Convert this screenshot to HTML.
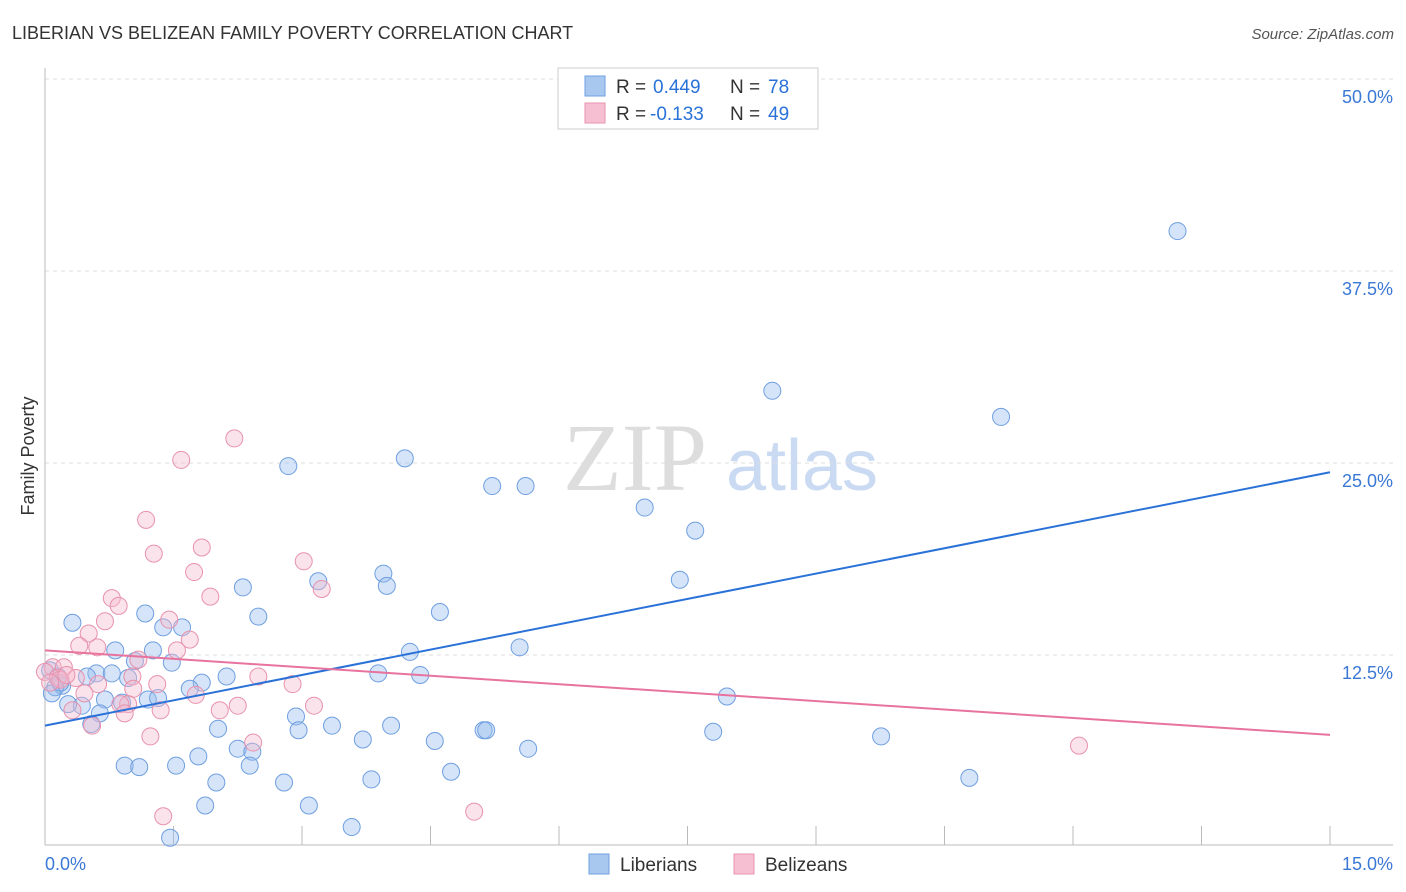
<!DOCTYPE html>
<html><head><meta charset="utf-8"><style>
body{margin:0;background:#fff;font-family:"Liberation Sans",sans-serif;}
svg{display:block}
</style></head><body>
<svg id="chart" width="1406" height="892">
<text x="12" y="39" font-size="18" fill="#333">LIBERIAN VS BELIZEAN FAMILY POVERTY CORRELATION CHART</text>
<text x="1394" y="39" font-size="15" fill="#555" font-style="italic" text-anchor="end">Source: ZipAtlas.com</text>
<g>
<text x="635" y="490" font-size="96" font-family="Liberation Serif,serif" fill="#ddd" text-anchor="middle">ZIP</text>
<text x="802" y="490" font-size="72" fill="#c9daf2" text-anchor="middle">atlas</text>
</g>
<g id="grid"></g>
<g id="axes"></g>
<g id="points"></g>
<g id="trends"></g>
<text transform="translate(34,456) rotate(-90)" font-size="18" fill="#333" text-anchor="middle">Family Poverty</text>
<g>
<rect x="558" y="68" width="260" height="61" fill="#fff" stroke="#ccc"/>
<rect x="585" y="76" width="20" height="20" fill="#a9c8f0" stroke="#6f9fe0"/>
<rect x="585" y="103" width="20" height="20" fill="#f6c0d2" stroke="#e892ad"/>
<text x="616" y="93" font-size="19" fill="#333">R =<tspan x="653" fill="#2a72d8">0.449</tspan><tspan x="730">N =</tspan><tspan x="768" fill="#2a72d8">78</tspan></text>
<text x="616" y="120" font-size="19" fill="#333">R =<tspan x="650" fill="#2a72d8">-0.133</tspan><tspan x="730">N =</tspan><tspan x="768" fill="#2a72d8">49</tspan></text>
</g>
<g>
<rect x="589" y="854" width="20" height="20" fill="#a9c8f0" stroke="#6f9fe0"/>
<text x="620" y="871" font-size="19" fill="#333">Liberians</text>
<rect x="734" y="854" width="20" height="20" fill="#f6c0d2" stroke="#e892ad"/>
<text x="765" y="871" font-size="19" fill="#333">Belizeans</text>
</g>
</svg>
<script>
const blueX=[13.22,8.49,11.16,4.20,2.84,5.22,5.61,7.00,7.59,7.41,3.19,3.95,3.99,2.31,4.61,1.17,2.49,0.32,1.38,1.60,0.82,1.26,5.54,4.26,1.48,1.05,0.60,0.78,0.49,0.06,0.15,0.20,0.12,3.89,4.38,2.12,1.83,1.69,0.97,0.70,0.90,1.20,1.32,0.43,0.27,0.64,7.96,2.93,2.96,3.35,4.04,2.02,0.54,5.12,5.15,3.71,4.55,7.80,9.76,2.25,2.42,5.64,1.79,2.39,0.93,1.10,1.53,4.74,10.79,2.00,2.79,3.81,1.87,3.08,3.58,1.46,0.08,0.18];
const blueY=[40.1,29.7,28.0,25.3,24.8,23.5,23.5,22.1,20.6,17.4,17.3,17.8,17.0,16.9,15.3,15.2,15.0,14.6,14.3,14.3,12.8,12.8,13.0,12.7,12.0,12.1,11.3,11.3,11.1,11.5,11.1,10.5,10.4,11.3,11.2,11.1,10.7,10.3,11.0,9.6,9.4,9.6,9.7,9.2,9.3,8.7,9.8,8.5,7.6,7.9,7.9,7.7,8.0,7.6,7.6,7.0,6.9,7.5,7.2,6.4,6.2,6.4,5.9,5.3,5.3,5.2,5.3,4.9,4.5,4.2,4.2,4.4,2.7,2.7,1.3,0.6,10.0,10.7];
const pinkX=[2.21,1.59,1.18,1.27,1.83,3.02,1.74,3.23,1.93,0.78,0.86,0.70,1.45,0.51,1.69,0.40,0.61,1.54,1.09,0.09,0.22,0.00,0.15,0.36,0.62,1.02,1.31,2.49,2.89,1.03,1.76,0.46,0.97,0.88,2.25,3.14,0.93,1.35,2.04,0.32,0.55,1.23,2.43,12.07,5.01,1.38,0.18,0.06,0.25];
const pinkY=[26.6,25.2,21.3,19.1,19.5,18.6,17.9,16.8,16.3,16.2,15.7,14.7,14.8,13.9,13.5,13.1,13.0,12.8,12.2,11.7,11.7,11.4,11.0,11.0,10.6,11.1,10.6,11.1,10.6,10.3,9.9,10.0,9.3,9.3,9.2,9.2,8.7,8.9,8.9,8.9,7.9,7.2,6.8,6.6,2.3,2.0,10.9,10.7,11.2];
const trendX=[0,15];
const blueTrend=[7.9,24.4];
const pinkTrend=[12.8,7.3];
const yTicks=[12.5,25,37.5,50];
const yTickLabels=["12.5%","25.0%","37.5%","50.0%"];
const xTickVals=[0,1.5,3,4.5,6,7.5,9,10.5,12,13.5,15];
const NS="http://www.w3.org/2000/svg";
const X0=45,X1=1330,Y0=847,Y1=79;
const xs=v=>X0+v/15*(X1-X0);
const ys=v=>Y0-v/50*(Y0-Y1);
function mk(tag,attrs,parent){const e=document.createElementNS(NS,tag);for(const k in attrs)e.setAttribute(k,attrs[k]);document.getElementById(parent).appendChild(e);return e;}
yTicks.forEach((t,i)=>{
 const l=mk('line',{x1:X0,x2:1393,y1:ys(t),y2:ys(t),stroke:'#ddd','stroke-dasharray':'4,4'},'grid');
 
 
 const tx=mk('text',{x:1393,y:ys(t)+24,'font-size':18,fill:'#3a78d6','text-anchor':'end'},'grid');
 tx.textContent=yTickLabels[i];
 
 
});
const ax=mk('line',{x1:X0,x2:1393,y1:845,y2:845,stroke:'#bbb'},'axes');


const ay=mk('line',{x1:X0,x2:X0,y1:68,y2:845,stroke:'#bbb'},'axes');


xTickVals.forEach(v=>{
 const t=mk('line',{x1:xs(v),x2:xs(v),y1:826,y2:845,stroke:'#bbb'},'axes');
 
 
});
const xl0=mk('text',{x:45,y:870,'font-size':18,fill:'#3a78d6'},'axes');xl0.textContent='0.0%';


const xl1=mk('text',{x:1393,y:870,'font-size':18,fill:'#3a78d6','text-anchor':'end'},'axes');xl1.textContent='15.0%';


blueX.forEach((x,i)=>{
 const c=mk('circle',{cx:xs(x),cy:ys(blueY[i]),r:8.5,fill:'rgba(150,188,238,0.4)',stroke:'#6f9fe0','stroke-width':1},'points');
 
 
});
pinkX.forEach((x,i)=>{
 const c=mk('circle',{cx:xs(x),cy:ys(pinkY[i]),r:8.5,fill:'rgba(246,184,206,0.4)',stroke:'#e892ad','stroke-width':1},'points');
 
 
});
const bt=mk('line',{x1:xs(trendX[0]),y1:ys(blueTrend[0]),x2:xs(trendX[1]),y2:ys(blueTrend[1]),stroke:'#2a72d8','stroke-width':2},'trends');


const pt=mk('line',{x1:xs(trendX[0]),y1:ys(pinkTrend[0]),x2:xs(trendX[1]),y2:ys(pinkTrend[1]),stroke:'#e8739e','stroke-width':2},'trends');


</script>
</body></html>
